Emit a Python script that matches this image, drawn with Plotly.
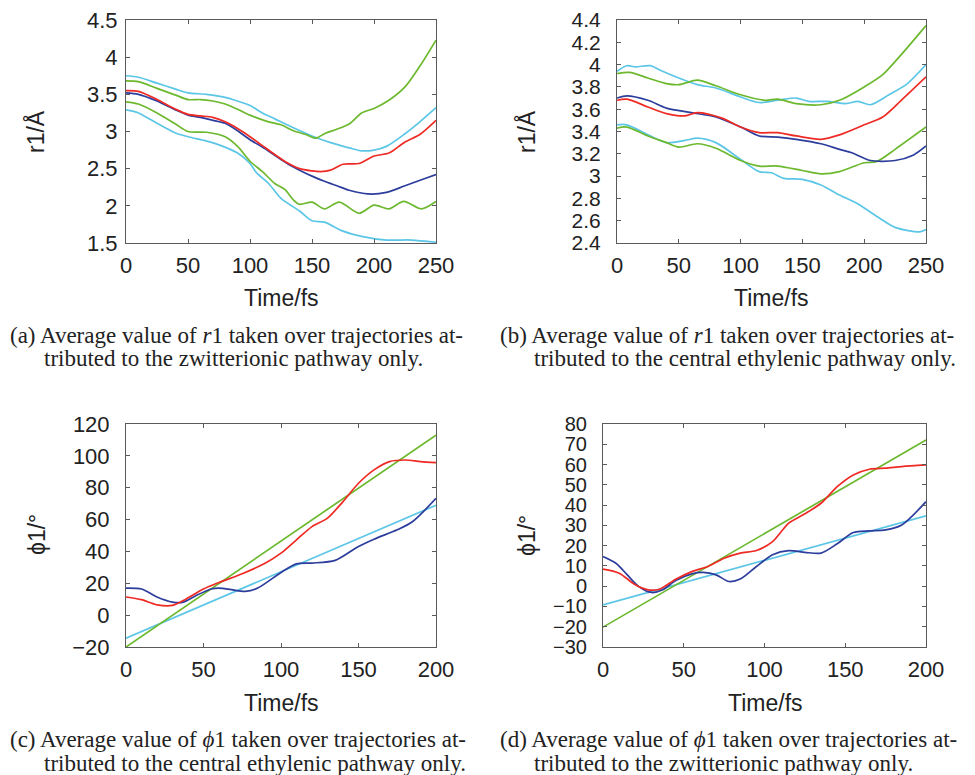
import plotly.graph_objects as go

W, H = 975, 775

# ---------------- data ----------------
# panel (a)  r1 zwitterionic
a_cyan_hi_t = [0, 10, 25, 40, 50, 65, 80, 90, 100, 110, 120, 135, 150, 165, 180, 190, 200, 210, 225, 237, 250]
a_cyan_hi = [3.75, 3.73, 3.65, 3.57, 3.52, 3.50, 3.46, 3.41, 3.35, 3.25, 3.17, 3.05, 2.94, 2.85, 2.78, 2.74, 2.75, 2.80, 2.97, 3.13, 3.32]
a_green_hi_t = [0, 10, 25, 40, 50, 60, 70, 80, 90, 100, 115, 125, 135, 145, 153, 160, 170, 180, 190, 200, 212, 225, 237, 250]
a_green_hi = [3.68, 3.67, 3.58, 3.49, 3.43, 3.43, 3.41, 3.37, 3.30, 3.22, 3.13, 3.09, 3.01, 2.96, 2.91, 2.97, 3.03, 3.10, 3.25, 3.31, 3.42, 3.60, 3.88, 4.23]
a_red_t = [0, 10, 25, 40, 50, 60, 70, 80, 90, 100, 110, 120, 130, 140, 150, 157, 165, 175, 188, 200, 212, 225, 237, 250]
a_red = [3.55, 3.54, 3.43, 3.30, 3.23, 3.21, 3.19, 3.13, 3.04, 2.93, 2.81, 2.69, 2.58, 2.50, 2.47, 2.46, 2.48, 2.56, 2.57, 2.67, 2.71, 2.86, 2.96, 3.15]
a_blue_t = [0, 10, 25, 40, 50, 60, 70, 80, 90, 100, 110, 120, 130, 140, 150, 160, 170, 180, 195, 210, 225, 240, 250]
a_blue = [3.52, 3.50, 3.41, 3.29, 3.22, 3.19, 3.15, 3.11, 3.01, 2.89, 2.79, 2.68, 2.57, 2.48, 2.40, 2.33, 2.27, 2.21, 2.16, 2.18, 2.27, 2.36, 2.42]
a_green_lo_t = [0, 10, 25, 40, 50, 65, 80, 90, 100, 110, 120, 128, 135, 140, 150, 160, 172, 188, 200, 212, 224, 238, 250]
a_green_lo = [3.40, 3.37, 3.25, 3.10, 3.00, 2.99, 2.93, 2.80, 2.60, 2.46, 2.30, 2.22, 2.08, 2.02, 2.05, 1.96, 2.05, 1.90, 2.01, 1.96, 2.06, 1.96, 2.06]
a_cyan_lo_t = [0, 10, 25, 40, 50, 65, 75, 90, 100, 105, 115, 125, 140, 150, 160, 175, 190, 210, 230, 250]
a_cyan_lo = [3.29, 3.25, 3.11, 2.98, 2.93, 2.87, 2.82, 2.71, 2.57, 2.45, 2.30, 2.10, 1.93, 1.80, 1.78, 1.66, 1.59, 1.54, 1.54, 1.51]

# panel (b)  r1 central ethylenic
b_cyan_hi_t = [0, 8, 15, 27, 35, 50, 65, 80, 100, 115, 130, 145, 155, 170, 185, 195, 205, 220, 235, 250]
b_cyan_hi = [3.94, 3.99, 3.98, 3.99, 3.95, 3.88, 3.82, 3.79, 3.71, 3.66, 3.68, 3.70, 3.67, 3.67, 3.65, 3.67, 3.64, 3.73, 3.83, 4.00]
b_green_hi_t = [0, 10, 25, 40, 50, 65, 80, 100, 120, 130, 145, 165, 180, 200, 215, 230, 250]
b_green_hi = [3.92, 3.93, 3.88, 3.83, 3.82, 3.86, 3.81, 3.73, 3.68, 3.69, 3.65, 3.64, 3.68, 3.80, 3.91, 4.09, 4.35]
b_blue_t = [0, 8, 25, 40, 60, 80, 100, 115, 130, 145, 165, 180, 190, 205, 225, 240, 250]
b_blue = [3.70, 3.72, 3.68, 3.61, 3.57, 3.53, 3.44, 3.36, 3.35, 3.33, 3.29, 3.24, 3.21, 3.14, 3.14, 3.19, 3.27]
b_red_t = [0, 8, 25, 40, 55, 65, 85, 100, 115, 130, 145, 165, 180, 200, 215, 230, 250]
b_red = [3.68, 3.69, 3.62, 3.56, 3.54, 3.57, 3.52, 3.44, 3.39, 3.39, 3.36, 3.33, 3.37, 3.46, 3.53, 3.68, 3.89]
b_cyan_lo_t = [0, 8, 25, 40, 55, 65, 80, 100, 115, 125, 135, 150, 165, 180, 195, 210, 225, 245, 250]
b_cyan_lo = [3.46, 3.46, 3.37, 3.30, 3.32, 3.34, 3.30, 3.15, 3.04, 3.03, 2.98, 2.97, 2.92, 2.83, 2.75, 2.64, 2.54, 2.50, 2.52]
b_green_lo_t = [0, 8, 25, 40, 50, 65, 80, 100, 115, 130, 150, 165, 180, 200, 210, 225, 250]
b_green_lo = [3.43, 3.44, 3.36, 3.30, 3.26, 3.29, 3.25, 3.14, 3.09, 3.09, 3.05, 3.02, 3.04, 3.12, 3.13, 3.24, 3.44]

# panel (c)  phi1 central ethylenic
c_green_t = [0, 200]
c_green = [-20, 113]
c_cyan_t = [0, 200]
c_cyan = [-14.5, 69]
c_blue_t = [0, 10, 20, 30, 37, 45, 55, 60, 68, 77, 85, 100, 110, 120, 135, 150, 160, 175, 185, 200]
c_blue = [17.0, 16.4, 11.4, 8.2, 8.2, 12.2, 16.4, 17.0, 16.0, 14.9, 17.0, 26.8, 32.2, 32.7, 34.4, 43.1, 47.7, 53.6, 58.8, 73.4]
c_red_t = [0, 10, 20, 30, 38, 50, 60, 75, 90, 100, 110, 120, 130, 140, 150, 160, 170, 180, 190, 200]
c_red = [11.4, 9.7, 6.5, 6.1, 9.7, 16.4, 20.5, 26.0, 32.7, 38.9, 47.3, 55.6, 60.9, 71.3, 82.8, 91.2, 96.4, 97.4, 96.4, 95.8]

# panel (d)  phi1 zwitterionic
d_green_t = [0, 200]
d_green = [-20.2, 72.1]
d_cyan_t = [0, 200]
d_cyan = [-9.2, 34.7]
d_blue_t = [0, 8, 15, 22, 30, 37, 45, 55, 62, 70, 78, 85, 95, 105, 115, 125, 135, 145, 155, 165, 175, 185, 200]
d_blue = [14.6, 11.3, 5.6, -0.1, -3.1, -1.8, 2.8, 6.1, 6.8, 5.6, 2.3, 3.5, 9.7, 15.5, 17.5, 16.7, 16.3, 20.9, 26.5, 27.3, 27.8, 30.2, 41.7]
d_red_t = [0, 10, 20, 28, 35, 45, 55, 65, 75, 85, 95, 105, 115, 125, 135, 145, 155, 165, 175, 185, 200]
d_red = [8.4, 6.4, 0.7, -1.8, -1.5, 3.4, 7.2, 9.7, 13.8, 16.3, 17.6, 22.0, 31.1, 35.7, 40.9, 49.1, 54.9, 57.7, 58.2, 59.0, 59.8]

# ticks
x_ticks_ab = [0, 50, 100, 150, 200, 250]
x_ticks_cd = [0, 50, 100, 150, 200]
a_yticks = [1.5, 2, 2.5, 3, 3.5, 4, 4.5]
a_ylabels = ["1.5", "2", "2.5", "3", "3.5", "4", "4.5"]
b_yticks = [2.4, 2.6, 2.8, 3.0, 3.2, 3.4, 3.6, 3.8, 4.0, 4.2, 4.4]
b_ylabels = ["2.4", "2.6", "2.8", "3", "3.2", "3.4", "3.6", "3.8", "4", "4.2", "4.4"]
c_yticks = [-20, 0, 20, 40, 60, 80, 100, 120]
c_ylabels = ["\u221220", "0", "20", "40", "60", "80", "100", "120"]
d_yticks = [-30, -20, -10, 0, 10, 20, 30, 40, 50, 60, 70, 80]
d_ylabels = ["\u221230", "\u221220", "\u221210", "0", "10", "20", "30", "40", "50", "60", "70", "80"]

captions = {
    "a": ["(a) Average value of <i>r</i>1 taken over trajectories at-",
          "tributed to the zwitterionic pathway only."],
    "b": ["(b) Average value of <i>r</i>1 taken over trajectories at-",
          "tributed to the central ethylenic pathway only."],
    "c": ["(c) Average value of <i>\u03d5</i>1 taken over trajectories at-",
          "tributed to the central ethylenic pathway only."],
    "d": ["(d) Average value of <i>\u03d5</i>1 taken over trajectories at-",
          "tributed to the zwitterionic pathway only."],
}

# ---------------- style ----------------
RED = "#ee2a24"
BLUE = "#2c3d9c"
CYAN = "#5cc6e6"
GREEN = "#6cb82e"
FRAME = "#5a5a5a"
TXT = "#222222"
SANS = "Liberation Sans"
SERIF = "Liberation Serif"

def px_x(x):
    return x / W

def px_y(y):
    return 1 - y / H

fig = go.Figure()

panels = [
    ("a", "", (126, 436, 20, 243), [0, 250], [1.5, 4.5], x_ticks_ab, a_yticks, a_ylabels,
     [(a_cyan_hi_t, a_cyan_hi, CYAN), (a_cyan_lo_t, a_cyan_lo, CYAN),
      (a_green_hi_t, a_green_hi, GREEN), (a_green_lo_t, a_green_lo, GREEN),
      (a_blue_t, a_blue, BLUE), (a_red_t, a_red, RED)], 3, 22),
    ("b", "2", (617, 926, 20, 243), [0, 250], [2.4, 4.4], x_ticks_ab, b_yticks, b_ylabels,
     [(b_cyan_hi_t, b_cyan_hi, CYAN), (b_cyan_lo_t, b_cyan_lo, CYAN),
      (b_green_hi_t, b_green_hi, GREEN), (b_green_lo_t, b_green_lo, GREEN),
      (b_blue_t, b_blue, BLUE), (b_red_t, b_red, RED)], 11, 21),
    ("c", "3", (126, 436, 424, 647), [0, 200], [-20, 120], x_ticks_cd, c_yticks, c_ylabels,
     [(c_cyan_t, c_cyan, CYAN), (c_green_t, c_green, GREEN),
      (c_blue_t, c_blue, BLUE), (c_red_t, c_red, RED)], 11, 22),
    ("d", "4", (603, 926, 424, 647), [0, 200], [-30, 80], x_ticks_cd, d_yticks, d_ylabels,
     [(d_cyan_t, d_cyan, CYAN), (d_green_t, d_green, GREEN),
      (d_blue_t, d_blue, BLUE), (d_red_t, d_red, RED)], 11, 20),
]

def axis_common(size):
    return dict(
        showline=True, mirror="ticks", ticks="inside", ticklen=4, tickwidth=1,
        linecolor=FRAME, tickcolor=FRAME, linewidth=1, showgrid=False, zeroline=False,
        automargin=False,
        tickfont=dict(family=SANS, size=size, color=TXT),
    )

layout_axes = {}
for name, ax, (x0, x1, y0, y1), xr, yr, xt, yt, yl, series, ystand, ysize in panels:
    for t, v, col in series:
        fig.add_trace(go.Scatter(
            x=t, y=v, mode="lines", xaxis="x" + ax, yaxis="y" + ax,
            line=dict(color=col, width=1.7, shape="spline", smoothing=0.8),
            showlegend=False, hoverinfo="skip"))
    layout_axes["xaxis" + ax] = dict(
        axis_common(22), domain=[px_x(x0), px_x(x1)], range=xr, autorange=False,
        tickvals=xt, ticktext=[str(v) for v in xt], anchor="y" + ax,
        ticklabelstandoff=3)
    layout_axes["yaxis" + ax] = dict(
        axis_common(ysize), domain=[px_y(y1), px_y(y0)], range=yr, autorange=False,
        tickvals=yt, ticktext=yl, anchor="x" + ax, ticklabelstandoff=ystand)

fig.update_layout(**layout_axes)

annotations = []
xtitle_pos = {"a": (281, 298), "b": (771, 298), "c": (281, 703), "d": (765, 703)}
ytitle_pos = {"a": (36, 132, "r1/\u00c5"), "b": (527, 132, "r1/\u00c5"),
              "c": (37, 535, "\u03d51/\u00b0"), "d": (527, 536, "\u03d51/\u00b0")}
for k, (x, y) in xtitle_pos.items():
    annotations.append(dict(text="Time/fs", x=px_x(x), y=px_y(y), xref="paper", yref="paper",
                            showarrow=False, xanchor="center", yanchor="middle",
                            font=dict(family=SANS, size=23, color=TXT)))
for k, (x, y, txt) in ytitle_pos.items():
    annotations.append(dict(text=txt, x=px_x(x), y=px_y(y), xref="paper", yref="paper",
                            showarrow=False, xanchor="center", yanchor="middle", textangle=-90,
                            font=dict(family=SANS, size=23, color=TXT)))

cap_pos = {"a": (8, 42, 335, 359), "b": (498, 532, 335, 359),
           "c": (8, 42, 739, 763), "d": (498, 532, 739, 763)}
for k, (xa, xb, ya, yb) in cap_pos.items():
    l1, l2 = captions[k]
    annotations.append(dict(text=l1, x=px_x(xa), y=px_y(ya), xref="paper", yref="paper",
                            showarrow=False, xanchor="left", yanchor="middle",
                            font=dict(family=SERIF, size=23, color=TXT)))
    annotations.append(dict(text=l2, x=px_x(xb), y=px_y(yb), xref="paper", yref="paper",
                            showarrow=False, xanchor="left", yanchor="middle",
                            font=dict(family=SERIF, size=23, color=TXT)))

fig.update_layout(
    template="none",
    width=W, height=H, margin=dict(l=0, r=0, t=0, b=0, pad=0, autoexpand=False),
    paper_bgcolor="white", plot_bgcolor="white",
    annotations=annotations, showlegend=False,
)

fig.write_html(
    "out.html",
    config={"displayModeBar": False},
    post_script="document.body.style.margin='0';document.body.style.overflow='hidden';",
)
